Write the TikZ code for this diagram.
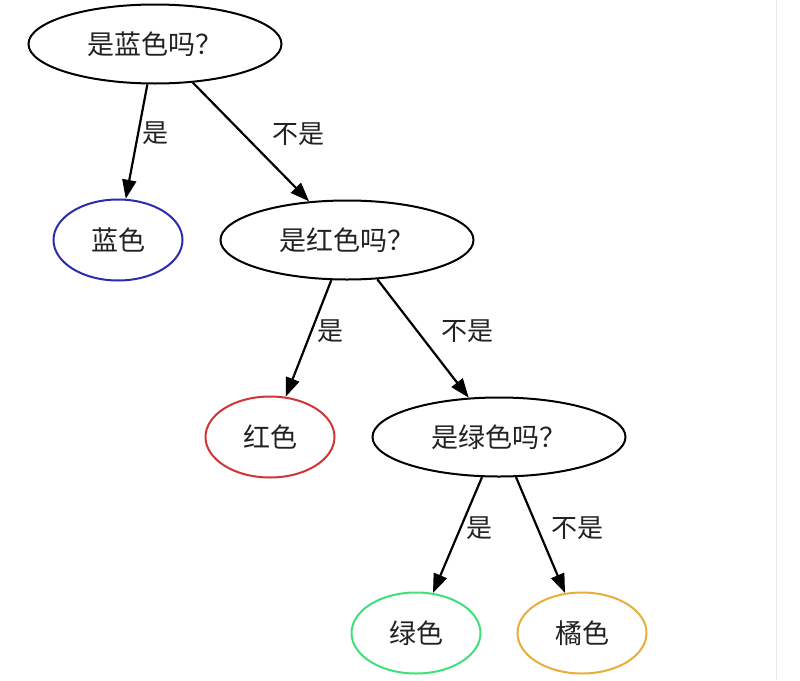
\documentclass[tikz,border=0pt]{standalone}
\usepackage{fontspec}
\newfontfamily\cjk{Noto Sans CJK SC}
\usetikzlibrary{shapes.geometric,arrows.meta}
\definecolor{cblue}{HTML}{2B2BB0}
\definecolor{cred}{HTML}{D03535}
\definecolor{cgreen}{HTML}{3FE07A}
\definecolor{corange}{HTML}{E8AE3A}
\definecolor{cline}{HTML}{E6E6E6}
\definecolor{ctext}{HTML}{222222}
\tikzset{
  qnode/.style={ellipse,draw=black,line width=2pt,minimum width=253pt,minimum height=79pt,inner sep=0pt,text=ctext,font=\cjk\fontsize{27}{30}\selectfont},
  leafnode/.style={ellipse,line width=2pt,minimum width=129pt,minimum height=81pt,inner sep=0pt,text=ctext,font=\cjk\fontsize{27}{30}\selectfont},
  edgeline/.style={line width=2.2pt,-{Triangle[length=19pt,width=14pt]}},
  elabel/.style={font=\cjk\fontsize{26}{30}\selectfont,text=ctext,inner sep=0pt}
}
\begin{document}
\begin{tikzpicture}[x=1pt,y=-1pt]
\useasboundingbox (0,0) rectangle (800,680);
\fill[white] (0,0) rectangle (800,680);
\draw[cline,line width=1pt] (776,0) -- (776,680);
\node[qnode] (q1) at (155,44) {是蓝色吗？};
\node[leafnode,draw=cblue] (blue) at (118,240) {蓝色};
\node[qnode] (q2) at (347,240) {是红色吗？};
\node[leafnode,draw=cred] (red) at (270,437) {红色};
\node[qnode] (q3) at (499,437) {是绿色吗？};
\node[leafnode,draw=cgreen] (green) at (416,633) {绿色};
\node[leafnode,draw=corange] (orange) at (582,633) {橘色};
\draw[edgeline] (q1) -- node[elabel,pos=0.43,xshift=17.5pt] {是} (blue);
\draw[edgeline] (q1) -- node[elabel,pos=0.43,xshift=56pt] {不是} (q2);
\draw[edgeline] (q2) -- node[elabel,pos=0.44,xshift=19pt] {是} (red);
\draw[edgeline] (q2) -- node[elabel,pos=0.44,xshift=50pt] {不是} (q3);
\draw[edgeline] (q3) -- node[elabel,pos=0.44,xshift=19.5pt] {是} (green);
\draw[edgeline] (q3) -- node[elabel,pos=0.44,xshift=39.5pt] {不是} (orange);
\end{tikzpicture}
\end{document}
